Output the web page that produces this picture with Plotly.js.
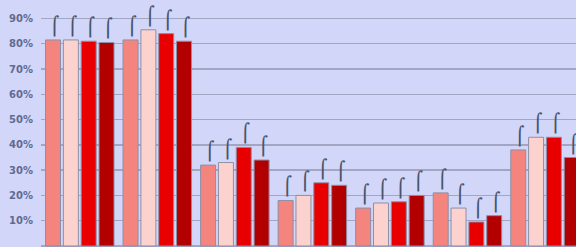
<!DOCTYPE html>
<html>
<head>
<meta charset="utf-8">
<script src="https://cdn.plot.ly/plotly-3.0.1.min.js"></script>
<style>
  html, body { margin: 0; padding: 0; background: #d2d6f8; }
  #chart { width: 576px; height: 247px; }
</style>
</head>
<body>
<div id="chart"></div>
<script>
const categories = ['G1', 'G2', 'G3', 'G4', 'G5', 'G6', 'G7'];
const series1 = [81.5, 81.5, 32, 18, 15, 21, 38];
const series2 = [81.5, 85.5, 33, 20, 17, 15, 43];
const series3 = [81, 84, 39, 25, 17.5, 9.5, 43];
const series4 = [80.5, 81, 34, 24, 20, 12, 35];
const seriesNames = ['Series 1', 'Series 2', 'Series 3', 'Series 4'];
const seriesColors = ['#f4847e', '#fcd2ce', '#e80000', '#b20000'];
const tickVals = [0, 10, 20, 30, 40, 50, 60, 70, 80, 90];

const allSeries = [series1, series2, series3, series4];
const traces = allSeries.map((vals, i) => ({
  type: 'bar',
  name: seriesNames[i],
  x: categories,
  y: vals,
  marker: { color: seriesColors[i], line: { color: '#8e8fa6', width: 1 } },
  text: vals.map(() => '\u2009\u2320'),
  textposition: 'outside',
  constraintext: 'none',
  cliponaxis: false,
  textfont: { family: 'DejaVu Sans', size: 18, color: '#46546c' },
  hoverinfo: 'none'
}));

const layout = {
  width: 576,
  height: 247,
  margin: { l: 41, r: 0, t: 0, b: 0, pad: 0 },
  paper_bgcolor: '#d2d6f8',
  plot_bgcolor: '#d2d6f8',
  showlegend: false,
  barmode: 'group',
  bargap: 0.08,
  bargroupgap: 0.16,
  xaxis: {
    type: 'category',
    range: [-0.5, 6.4],
    showticklabels: false,
    showgrid: false,
    zeroline: false,
    showline: false
  },
  yaxis: {
    range: [-0.4, 97.3],
    tickvals: tickVals,
    ticktext: tickVals.map(v => v + '%'),
    showgrid: true,
    gridcolor: '#a2a6c2',
    gridwidth: 1.5,
    zeroline: false,
    showline: false,
    ticks: '',
    ticklabelstandoff: 7,
    tickfont: { family: 'DejaVu Sans', size: 10, weight: 'bold', color: '#626a90' }
  }
};

Plotly.newPlot('chart', traces, layout, { displayModeBar: false, staticPlot: true });
</script>
</body>
</html>
